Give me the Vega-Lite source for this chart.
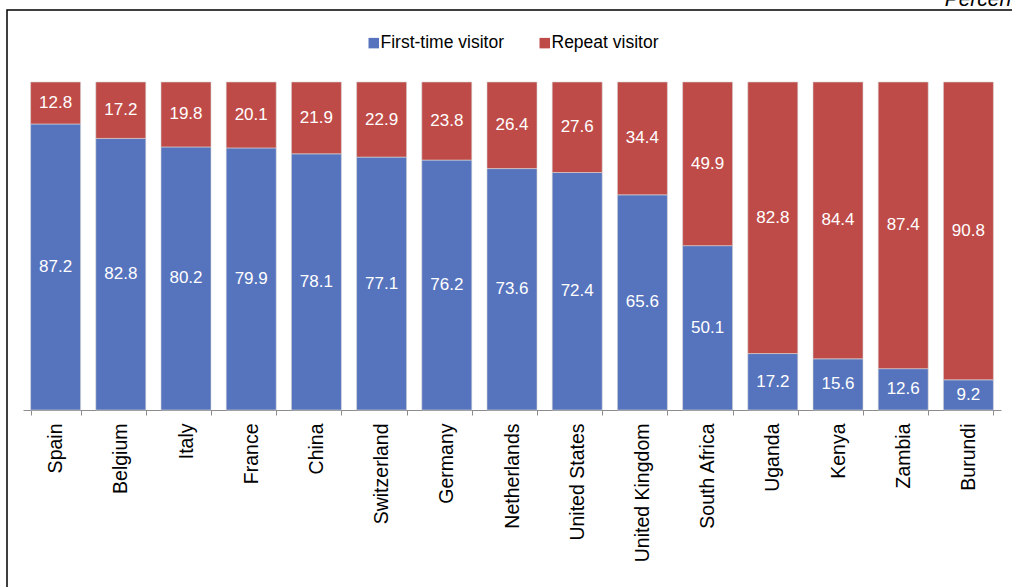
{
  "$schema": "https://vega.github.io/schema/vega-lite/v6.json",
  "autosize": {"type": "none"},
  "padding": {"left": 7, "top": 10, "right": 0, "bottom": 0},
  "width": 1012,
  "height": 600,
  "background": "white",
  "title": {
    "text": "Percent",
    "anchor": "end",
    "frame": "group",
    "fontStyle": "italic",
    "fontWeight": "normal",
    "font": "Liberation Sans",
    "fontSize": 21,
    "color": "#000000",
    "baseline": "alphabetic",
    "offset": 5,
    "dx": -2,
    "dy": 22
  },
  "data": {
    "values": [
      {"country": "Spain", "type": "First-time visitor", "value": 87.2},
      {"country": "Spain", "type": "Repeat visitor", "value": 12.8},
      {"country": "Belgium", "type": "First-time visitor", "value": 82.8},
      {"country": "Belgium", "type": "Repeat visitor", "value": 17.2},
      {"country": "Italy", "type": "First-time visitor", "value": 80.2},
      {"country": "Italy", "type": "Repeat visitor", "value": 19.8},
      {"country": "France", "type": "First-time visitor", "value": 79.9},
      {"country": "France", "type": "Repeat visitor", "value": 20.1},
      {"country": "China", "type": "First-time visitor", "value": 78.1},
      {"country": "China", "type": "Repeat visitor", "value": 21.9},
      {"country": "Switzerland", "type": "First-time visitor", "value": 77.1},
      {"country": "Switzerland", "type": "Repeat visitor", "value": 22.9},
      {"country": "Germany", "type": "First-time visitor", "value": 76.2},
      {"country": "Germany", "type": "Repeat visitor", "value": 23.8},
      {"country": "Netherlands", "type": "First-time visitor", "value": 73.6},
      {"country": "Netherlands", "type": "Repeat visitor", "value": 26.4},
      {"country": "United States", "type": "First-time visitor", "value": 72.4},
      {"country": "United States", "type": "Repeat visitor", "value": 27.6},
      {"country": "United Kingdom", "type": "First-time visitor", "value": 65.6},
      {"country": "United Kingdom", "type": "Repeat visitor", "value": 34.4},
      {"country": "South Africa", "type": "First-time visitor", "value": 50.1},
      {"country": "South Africa", "type": "Repeat visitor", "value": 49.9},
      {"country": "Uganda", "type": "First-time visitor", "value": 17.2},
      {"country": "Uganda", "type": "Repeat visitor", "value": 82.8},
      {"country": "Kenya", "type": "First-time visitor", "value": 15.6},
      {"country": "Kenya", "type": "Repeat visitor", "value": 84.4},
      {"country": "Zambia", "type": "First-time visitor", "value": 12.6},
      {"country": "Zambia", "type": "Repeat visitor", "value": 87.4},
      {"country": "Burundi", "type": "First-time visitor", "value": 9.2},
      {"country": "Burundi", "type": "Repeat visitor", "value": 90.8}
    ]
  },
  "encoding": {
    "x": {
      "field": "country",
      "type": "nominal",
      "sort": null,
      "scale": {"range": [16, 994], "paddingInner": 0.233, "paddingOuter": 0.1165},
      "axis": {
        "title": null,
        "offset": -200,
        "labelAngle": -90,
        "labelFont": "Liberation Sans",
        "labelFontSize": 19.5,
        "labelColor": "#000000",
        "labelPadding": 8,
        "tickBand": "extent",
        "tickSize": 5,
        "tickColor": "#8c8c8c",
        "domainColor": "#8c8c8c",
        "domainWidth": 1,
        "grid": false
      }
    },
    "y": {
      "field": "value",
      "type": "quantitative",
      "stack": "zero",
      "scale": {"domain": [-60.98, 121.95], "nice": false, "zero": false},
      "axis": null
    },
    "order": {"field": "type", "sort": "ascending"}
  },
  "layer": [
    {
      "mark": {"type": "bar", "stroke": "#d9d9d9", "strokeWidth": 0.6},
      "encoding": {
        "color": {
          "field": "type",
          "type": "nominal",
          "scale": {"domain": ["First-time visitor", "Repeat visitor"], "range": ["#5673BD", "#BF4B48"]},
          "legend": {
            "title": null,
            "orient": "none",
            "direction": "horizontal",
            "legendX": 358,
            "legendY": 24,
            "symbolType": "square",
            "symbolSize": 110,
            "symbolStrokeWidth": 0,
            "symbolOpacity": 1,
            "labelFont": "Liberation Sans",
            "labelFontSize": 17.5,
            "labelColor": "#000000",
            "labelOffset": -2,
            "columnPadding": 32
          }
        }
      }
    },
    {
      "mark": {"type": "text", "color": "white", "font": "Liberation Sans", "fontSize": 17, "baseline": "middle"},
      "encoding": {
        "y": {"field": "value", "type": "quantitative", "stack": "zero", "bandPosition": 0.5},
        "text": {"field": "value", "type": "quantitative", "format": ".1f"}
      }
    }
  ],
  "config": {
    "view": {"stroke": "#000000", "strokeWidth": 1.5}
  }
}
